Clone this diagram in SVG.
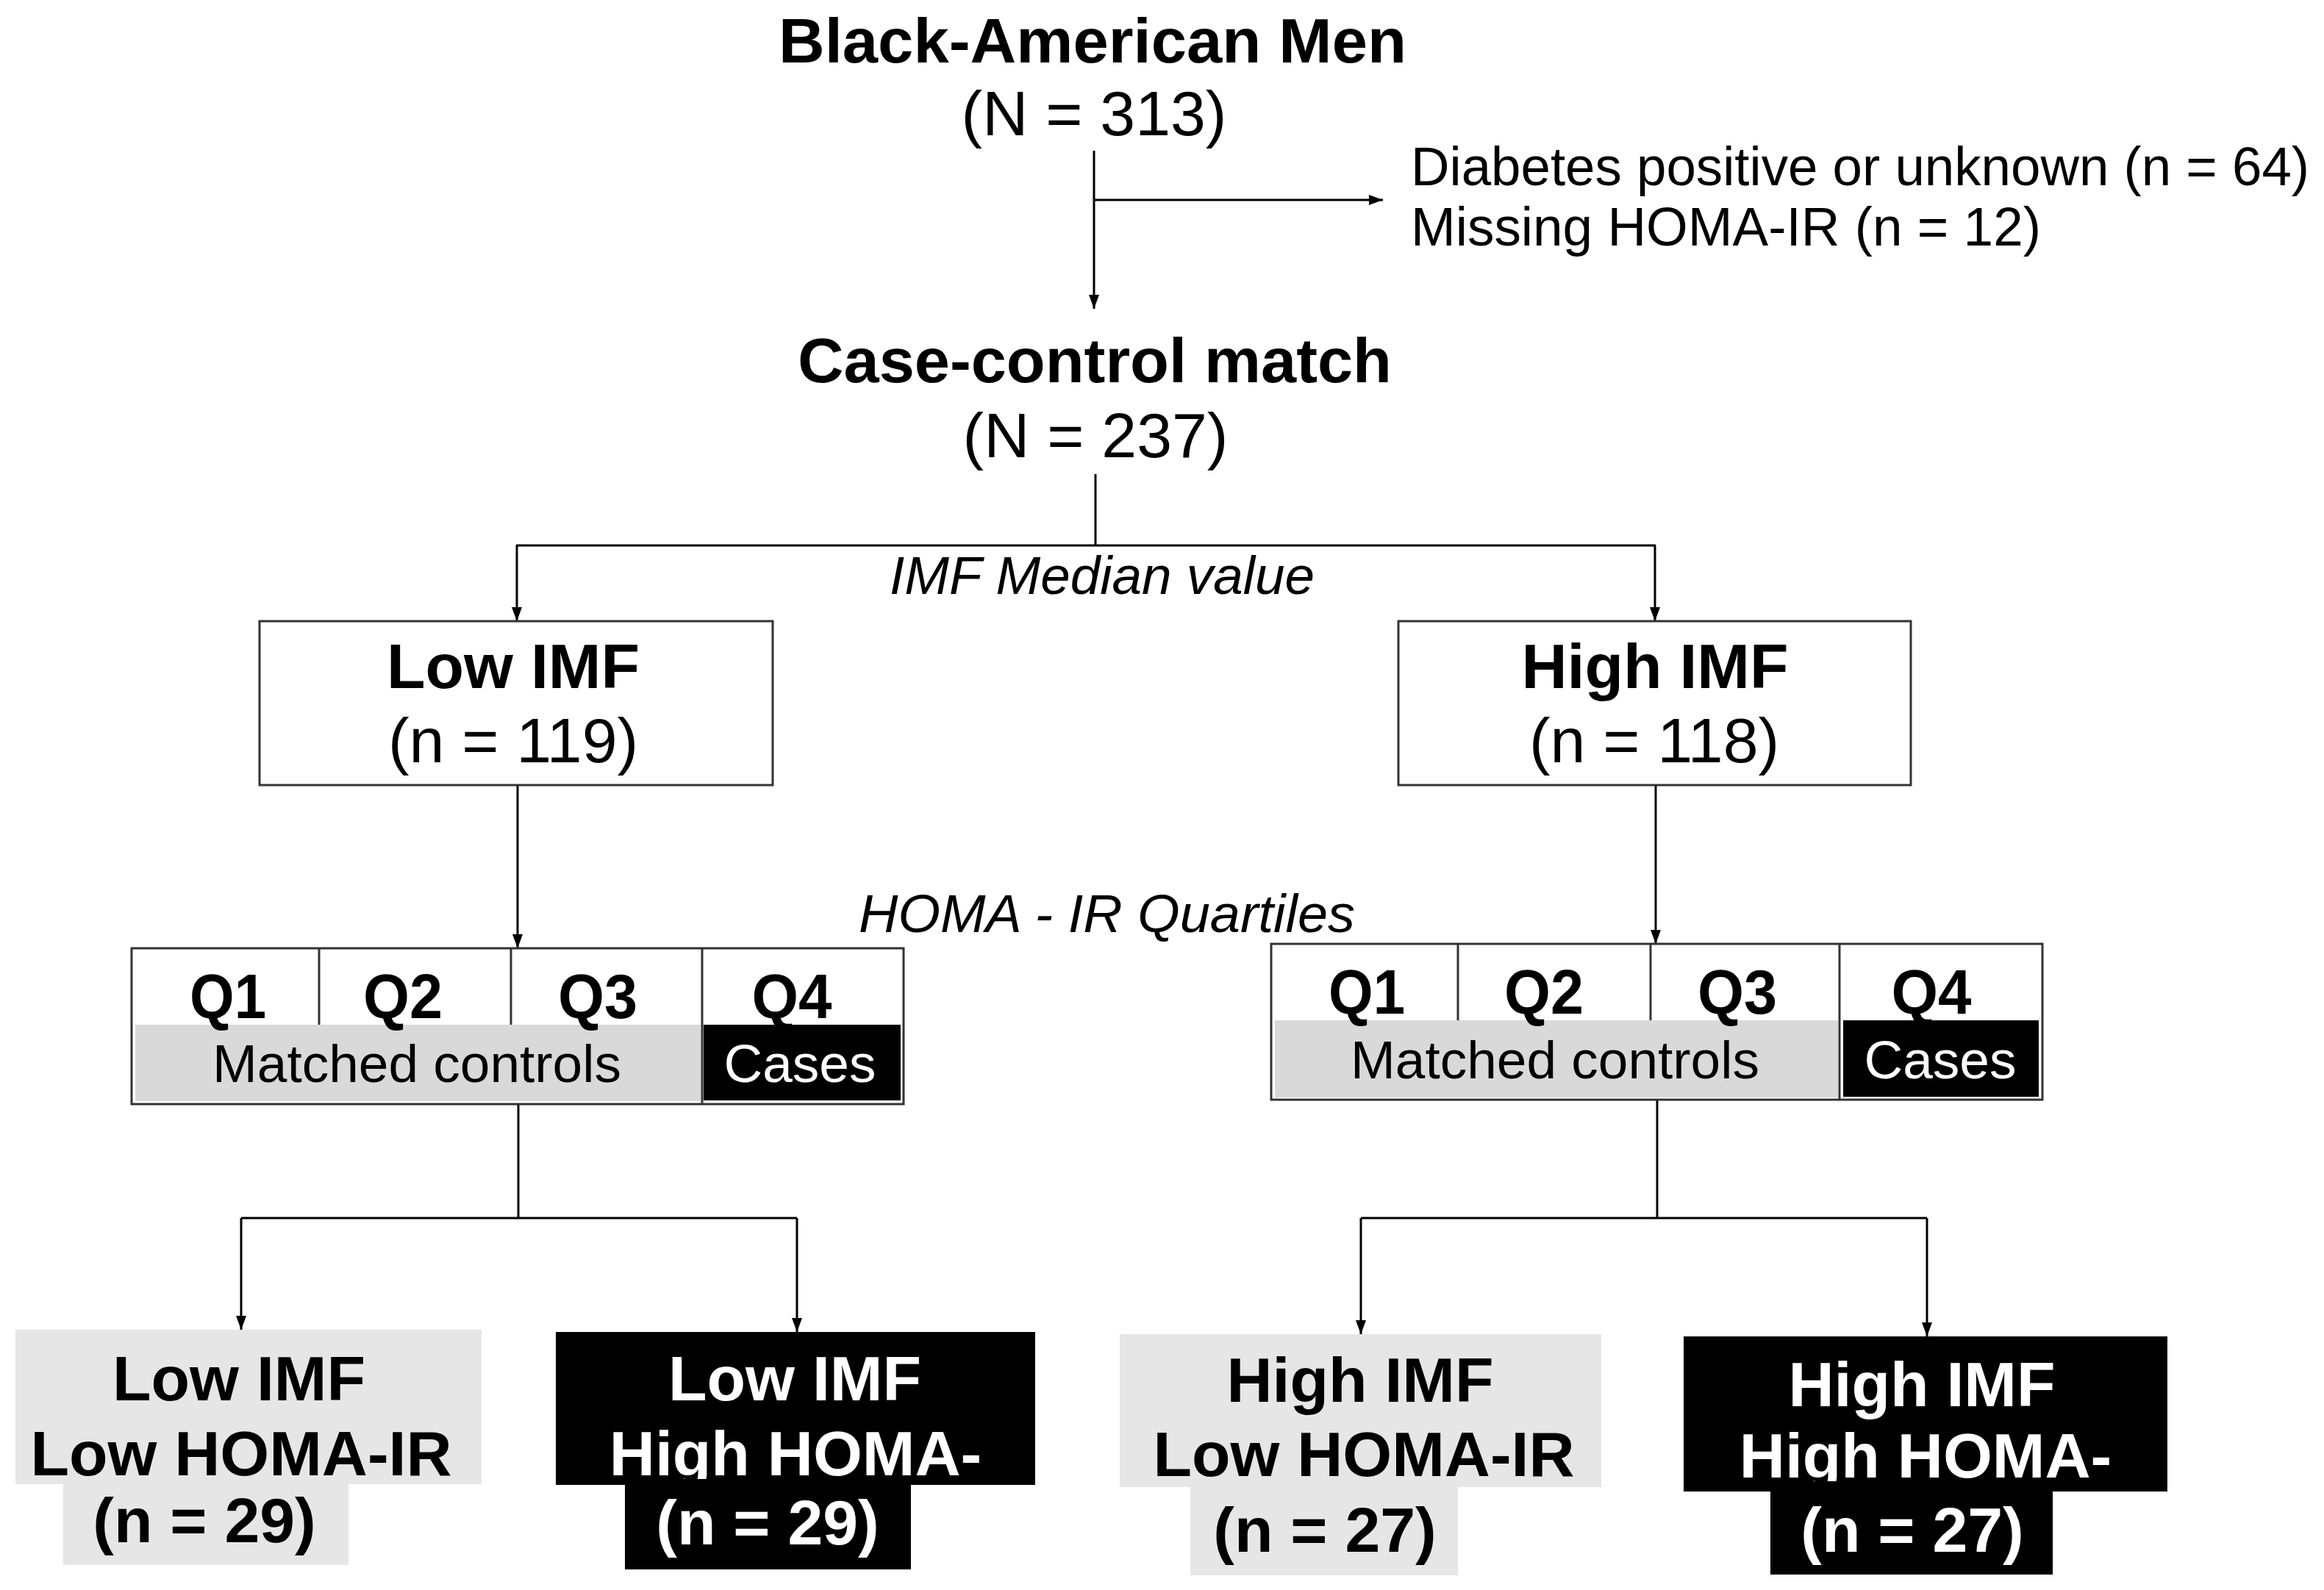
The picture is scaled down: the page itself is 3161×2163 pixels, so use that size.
<svg xmlns="http://www.w3.org/2000/svg" width="3161" height="2163" viewBox="0 0 3161 2163">
<style>
text{font-family:"Liberation Sans",Arial,sans-serif;fill:#000}
.b{font-weight:bold}
.i{font-style:italic}
.m{text-anchor:middle}
.w{fill:#fff}
.box{fill:#fff;stroke:#333;stroke-width:3}
.ln{fill:none;stroke:#000;stroke-width:3}
.div{stroke:#333;stroke-width:3}
.g1{fill:#d9d9d9}
.g2{fill:#e6e6e6}
.bk{fill:#000}
</style>
<defs>
<marker id="ah" markerUnits="userSpaceOnUse" markerWidth="20" markerHeight="16" refX="19" refY="8" orient="auto">
<path d="M0,1 L19,8 L0,15 z" fill="#000"/>
</marker>
<clipPath id="c1"><rect x="756" y="1812" width="652" height="200"/></clipPath>
<clipPath id="c2"><rect x="2290" y="1818" width="658" height="197"/></clipPath>
</defs>
<rect width="3161" height="2163" fill="#fff"/>

<g id="connectors">
<path class="ln" d="M1488 205 V420" marker-end="url(#ah)"/>
<path class="ln" d="M1488 272 H1881" marker-end="url(#ah)"/>
<path class="ln" d="M1490 645 V742"/>
<path class="ln" d="M702 742 H2252"/>
<path class="ln" d="M703 742 V845" marker-end="url(#ah)"/>
<path class="ln" d="M2251 742 V845" marker-end="url(#ah)"/>
<path class="ln" d="M704 1068 V1290" marker-end="url(#ah)"/>
<path class="ln" d="M2252 1068 V1284" marker-end="url(#ah)"/>
<path class="ln" d="M705 1502 V1657"/>
<path class="ln" d="M328 1657 H1084"/>
<path class="ln" d="M328 1657 V1809" marker-end="url(#ah)"/>
<path class="ln" d="M1084 1657 V1812" marker-end="url(#ah)"/>
<path class="ln" d="M2254 1496 V1657"/>
<path class="ln" d="M1851 1657 H2621"/>
<path class="ln" d="M1851 1657 V1815" marker-end="url(#ah)"/>
<path class="ln" d="M2621 1657 V1818" marker-end="url(#ah)"/>
</g>

<g id="start">
<text class="b m" x="1486" y="85" font-size="86" textLength="854" lengthAdjust="spacingAndGlyphs">Black-American Men</text>
<text class="m" x="1488" y="184" font-size="86">(N = 313)</text>
</g>

<g id="excluded">
<text x="1919" y="252" font-size="74" textLength="1222" lengthAdjust="spacingAndGlyphs">Diabetes positive or unknown (n = 64)</text>
<text x="1919" y="334" font-size="74" textLength="857" lengthAdjust="spacingAndGlyphs">Missing HOMA-IR (n = 12)</text>
</g>

<g id="casecontrol">
<text class="b m" x="1489" y="520" font-size="86" textLength="808" lengthAdjust="spacingAndGlyphs">Case-control match</text>
<text class="m" x="1490" y="622" font-size="86">(N = 237)</text>
</g>

<g id="label-median">
<text class="i" x="1210" y="808" font-size="72" textLength="578" lengthAdjust="spacingAndGlyphs">IMF Median value</text>
</g>

<g id="lowimf">
<rect class="box" x="353" y="845" width="698" height="223"/>
<text class="b m" x="698" y="936" font-size="86">Low IMF</text>
<text class="m" x="698" y="1037" font-size="86">(n = 119)</text>
</g>

<g id="highimf">
<rect class="box" x="1902" y="845" width="697" height="223"/>
<text class="b m" x="2251" y="936" font-size="86">High IMF</text>
<text class="m" x="2250" y="1037" font-size="86">(n = 118)</text>
</g>

<g id="label-quartiles">
<text class="i" x="1168" y="1268" font-size="72" textLength="675" lengthAdjust="spacingAndGlyphs">HOMA - IR Quartiles</text>
</g>

<g id="quartiles-low">
<rect class="box" x="179" y="1290" width="1050" height="212"/>
<rect class="g1" x="184" y="1394" width="769" height="104"/>
<rect class="bk" x="957" y="1394" width="268" height="103"/>
<line class="div" x1="434" y1="1290" x2="434" y2="1394"/>
<line class="div" x1="695" y1="1290" x2="695" y2="1394"/>
<line class="div" x1="955" y1="1290" x2="955" y2="1502"/>
<text class="b m" x="310" y="1385" font-size="86" textLength="104" lengthAdjust="spacingAndGlyphs">Q1</text>
<text class="b m" x="548" y="1385" font-size="86" textLength="108" lengthAdjust="spacingAndGlyphs">Q2</text>
<text class="b m" x="813" y="1385" font-size="86" textLength="108" lengthAdjust="spacingAndGlyphs">Q3</text>
<text class="b m" x="1077" y="1385" font-size="86" textLength="109" lengthAdjust="spacingAndGlyphs">Q4</text>
<text class="m" x="567" y="1472" font-size="73">Matched controls</text>
<text class="m w" x="1088" y="1472" font-size="73">Cases</text>
</g>

<g id="quartiles-high">
<rect class="box" x="1729" y="1284" width="1049" height="212"/>
<rect class="g1" x="1734" y="1388" width="766" height="105"/>
<rect class="bk" x="2507" y="1388" width="266" height="104"/>
<line class="div" x1="1983" y1="1284" x2="1983" y2="1388"/>
<line class="div" x1="2245" y1="1284" x2="2245" y2="1388"/>
<line class="div" x1="2502" y1="1284" x2="2502" y2="1496"/>
<text class="b m" x="1859" y="1379" font-size="86" textLength="104" lengthAdjust="spacingAndGlyphs">Q1</text>
<text class="b m" x="2100" y="1379" font-size="86" textLength="108" lengthAdjust="spacingAndGlyphs">Q2</text>
<text class="b m" x="2363" y="1379" font-size="86" textLength="108" lengthAdjust="spacingAndGlyphs">Q3</text>
<text class="b m" x="2627" y="1379" font-size="86" textLength="109" lengthAdjust="spacingAndGlyphs">Q4</text>
<text class="m" x="2115" y="1467" font-size="73">Matched controls</text>
<text class="m w" x="2639" y="1467" font-size="73">Cases</text>
</g>

<g id="lowimf-lowhoma">
<rect class="g2" x="21" y="1809" width="634" height="210"/>
<rect class="g2" x="86" y="2018" width="388" height="111"/>
<text class="b m" x="325" y="1905" font-size="86">Low IMF</text>
<text class="b m" x="328" y="2007" font-size="86">Low HOMA-IR</text>
<text class="b m" x="278" y="2098" font-size="86">(n = 29)</text>
</g>

<g id="lowimf-highhoma">
<rect class="bk" x="756" y="1812" width="652" height="208"/>
<rect class="bk" x="850" y="2018" width="389" height="117"/>
<text class="b m w" x="1081" y="1905" font-size="86">Low IMF</text>
<text class="b m w" x="1082" y="2007" font-size="86" clip-path="url(#c1)">High HOMA-</text>
<text class="b m w" x="1044" y="2101" font-size="86">(n = 29)</text>
</g>

<g id="highimf-lowhoma">
<rect class="g2" x="1523" y="1815" width="655" height="208"/>
<rect class="g2" x="1619" y="2022" width="364" height="121"/>
<text class="b m" x="1850" y="1907" font-size="86">High IMF</text>
<text class="b m" x="1855" y="2008" font-size="86">Low HOMA-IR</text>
<text class="b m" x="1802" y="2111" font-size="86">(n = 27)</text>
</g>

<g id="highimf-highhoma">
<rect class="bk" x="2290" y="1818" width="658" height="211"/>
<rect class="bk" x="2408" y="2027" width="384" height="115"/>
<text class="b m w" x="2614" y="1913" font-size="86">High IMF</text>
<text class="b m w" x="2619" y="2010" font-size="86" clip-path="url(#c2)">High HOMA-</text>
<text class="b m w" x="2601" y="2111" font-size="86">(n = 27)</text>
</g>
</svg>
